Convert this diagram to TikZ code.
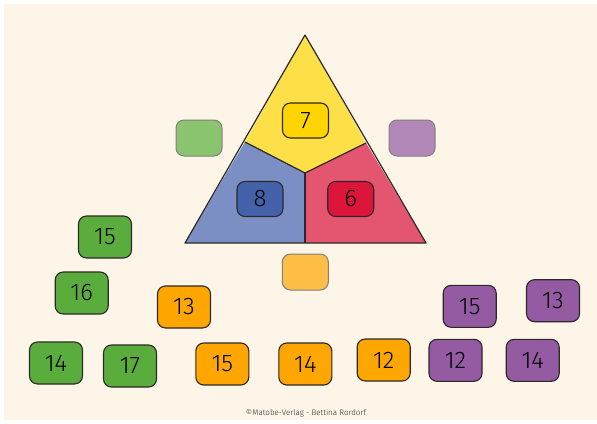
\documentclass[tikz,border=0pt]{standalone}
\usepackage{fontspec}
\setmainfont{Fira Sans}[UprightFont={* Light}]
\usepackage{xcolor}
\usepackage{tikz}
\usetikzlibrary{positioning, calc}
\definecolor{paper}{RGB}{253, 245, 231}
\definecolor{ink}{RGB}{45, 40, 40}
\definecolor{triyellow}{RGB}{253, 224, 72}
\definecolor{triblue}{RGB}{124, 143, 196}
\definecolor{trired}{RGB}{228, 86, 112}
\definecolor{boxyellow}{RGB}{255, 212, 0}
\definecolor{boxblue}{RGB}{68, 98, 170}
\definecolor{boxred}{RGB}{219, 22, 58}
\definecolor{leafgreen}{RGB}{90, 172, 60}
\definecolor{peach}{RGB}{255, 166, 0}
\definecolor{plum}{RGB}{148, 90, 162}
\definecolor{palegreen}{RGB}{138, 196, 110}
\definecolor{paleorange}{RGB}{255, 190, 70}
\definecolor{paleplum}{RGB}{178, 136, 184}

\begin{document}
\begin{tikzpicture}[x=1pt, y=-1pt,
  card/.style={rectangle, rounded corners=8pt, draw=ink, line width=1.1pt,
    minimum width=53pt, minimum height=42pt, inner sep=0pt,
    font=\fontsize{24pt}{27pt}\selectfont, text=black},
  inner/.style={card, minimum width=46pt, minimum height=35pt},
  blank/.style={rectangle, rounded corners=8pt, draw=ink!60, line width=1pt,
    minimum width=46pt, minimum height=36pt},
  edge/.style={draw=ink, line width=1.2pt, line join=round}
]
% background
\fill[white] (0,0) rectangle (597,423);
\fill[paper] (4,4) rectangle (597,420);
\useasboundingbox (0,0) rectangle (597,423);

% triangle corners and split points
\coordinate (apex) at (305,35);
\coordinate (bl)   at (185,243);
\coordinate (br)   at (426,243);
\coordinate (mid)  at (305,173);
\coordinate (lcut) at (245,142);
\coordinate (rcut) at (366,143);
\coordinate (bmid) at (305,243);

\fill[triyellow] (apex) -- (rcut) -- (mid) -- (lcut) -- cycle;
\fill[triblue]   (lcut) -- (mid) -- (bmid) -- (bl) -- cycle;
\fill[trired]    (rcut) -- (br) -- (bmid) -- (mid) -- cycle;
\draw[edge] (lcut) -- (mid) -- (rcut);
\draw[edge] (mid) -- (bmid);
\draw[edge] (apex) -- (br) -- (bl) -- cycle;

% numbers inside
\node[inner, fill=boxyellow] at (305.5,120.5) (top)   {7};
\node[inner, fill=boxblue]   at (260,199)     (left)  {8};
\node[inner, fill=boxred]    at (350.7,199)   (right) {6};

% empty side cards
\node[blank, fill=palegreen]  at (199,138)   (gside) {};
\node[blank, fill=paleplum]   at (412,138)   (pside) {};
\node[blank, fill=paleorange] at (305.3,272) (oside) {};

% green cards
\node[card, fill=leafgreen] at (105,237)   (g15) {15};
\node[card, fill=leafgreen] at (81.7,293)  (g16) {16};
\node[card, fill=leafgreen] at (56,363)    (g14) {14};
\node[card, fill=leafgreen] at (130,366)   (g17) {17};

% orange cards
\node[card, fill=peach] at (184,307)   (o13) {13};
\node[card, fill=peach] at (222.3,364) (o15) {15};
\node[card, fill=peach] at (305.3,364) (o14) {14};
\node[card, fill=peach] at (383.7,360) (o12) {12};

% purple cards
\node[card, fill=plum] at (469.7,306.3) (p15) {15};
\node[card, fill=plum] at (553,300.7)   (p13) {13};
\node[card, fill=plum] at (455.5,360.3) (p12) {12};
\node[card, fill=plum] at (532.7,360.3) (p14) {14};

\node[font=\fontsize{8pt}{9pt}\selectfont, text=ink] at (306,413) (credit)
  {©Matobe-Verlag - Bettina Rordorf};
\end{tikzpicture}
\end{document}
